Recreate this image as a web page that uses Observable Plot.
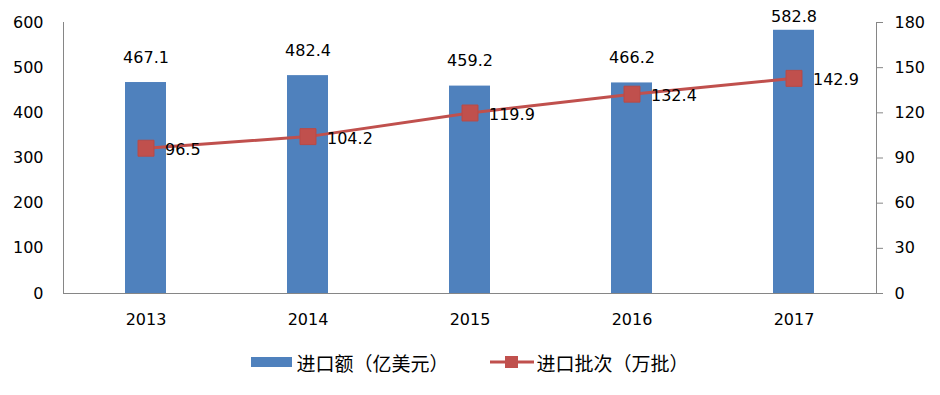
<!DOCTYPE html>
<html>
<head>
<meta charset="utf-8">
<script src="https://cdn.jsdelivr.net/npm/d3@7"></script>
<script src="https://cdn.jsdelivr.net/npm/@observablehq/plot@0.6"></script>
<style>
  html, body { margin: 0; padding: 0; background: #fff; }
  #legend { display: flex; justify-content: center; align-items: center; height: 44px; font-family: "Noto Sans CJK SC", sans-serif; font-size: 19px; color: #000; }
  .item { display: flex; align-items: center; }
  .sw { display: inline-block; }
</style>
</head>
<body>
<div id="chart"></div>
<div id="legend"></div>
<script>
const years = ["2013", "2014", "2015", "2016", "2017"];
const amount = [467.1, 482.4, 459.2, 466.2, 582.8];
const batches = [96.5, 104.2, 119.9, 132.4, 142.9];
const leftTicks = [0, 100, 200, 300, 400, 500, 600];
const rightTicks = [0, 30, 60, 90, 120, 150, 180];
const seriesNames = ["进口额（亿美元）", "进口批次（万批）"];

const blue = "#4F81BD", red = "#C0504D", axisGray = "#868686";
const ratio = 600 / 180;
const data = years.map((y, i) => ({year: y, amount: amount[i], batches: batches[i], b2: batches[i] * ratio}));

const axisLines = (index, scales, values, dim) => {
  const g = d3.create("svg:g").attr("stroke", axisGray).attr("stroke-width", 1);
  const x0 = dim.marginLeft, x1 = dim.width - dim.marginRight;
  const y0 = dim.marginTop, y1 = dim.height - dim.marginBottom;
  g.append("line").attr("x1", x0 + 0.5).attr("x2", x0 + 0.5).attr("y1", y0).attr("y2", y1);
  g.append("line").attr("x1", x1 + 0.5).attr("x2", x1 + 0.5).attr("y1", y0).attr("y2", y1);
  g.append("line").attr("x1", x0).attr("x2", x1 + 1).attr("y1", y1 + 0.5).attr("y2", y1 + 0.5);
  return g.node();
};

// bar labels sit ~25px above the bar, but are kept inside the top of the chart
const labelY = d => Math.min(d.amount + 55, 613);

const chart = Plot.plot({
  width: 940,
  height: 340,
  marginLeft: 63,
  marginRight: 64,
  marginTop: 22,
  marginBottom: 47,
  style: {fontFamily: "DejaVu Sans, sans-serif", fontSize: "16px", color: "#000", background: "#fff", overflow: "visible"},
  x: {domain: years, paddingInner: 0.75, paddingOuter: 0.375, label: null},
  y: {domain: [0, 600], label: null},
  marks: [
    Plot.barY(data, {x: "year", y: "amount", fill: blue}),
    axisLines,
    Plot.axisY({ticks: leftTicks, tickSize: 0, tickPadding: 20, label: null, fontSize: 16}),
    Plot.axisY(rightTicks.map(v => v * ratio), {anchor: "right", tickFormat: d => String(Math.round(d / ratio)), tickSize: 6, tickPadding: 12, stroke: axisGray, label: null, fontSize: 16}),
    Plot.axisX({tickSize: 0, tickPadding: 20, label: null, fontSize: 16}),
    Plot.lineY(data, {x: "year", y: "b2", stroke: red, strokeWidth: 3}),
    Plot.dot(data, {x: "year", y: "b2", symbol: "square", r: 9, fill: red, stroke: "#B84A47", strokeWidth: 1}),
    Plot.text(data, {x: "year", y: labelY, text: d => d.amount.toFixed(1), fill: "#000", fontSize: 16}),
    Plot.text(data, {x: "year", y: "b2", text: d => d.batches.toFixed(1), dx: 19, dy: 2, textAnchor: "start", fill: "#000", fontSize: 16})
  ]
});
document.getElementById("chart").appendChild(chart);

const legend = document.getElementById("legend");
legend.innerHTML = `
  <div class="item"><span class="sw" style="width:41px;height:10px;background:${blue};margin-right:4px"></span>${seriesNames[0]}</div>
  <div class="item" style="margin-left:41px"><svg width="44" height="16" style="margin-right:3px"><line x1="0" x2="44" y1="8" y2="8" stroke="${red}" stroke-width="3"/><rect x="15" y="2" width="13" height="12" fill="${red}"/></svg>${seriesNames[1]}</div>
`;
</script>
</body>
</html>
